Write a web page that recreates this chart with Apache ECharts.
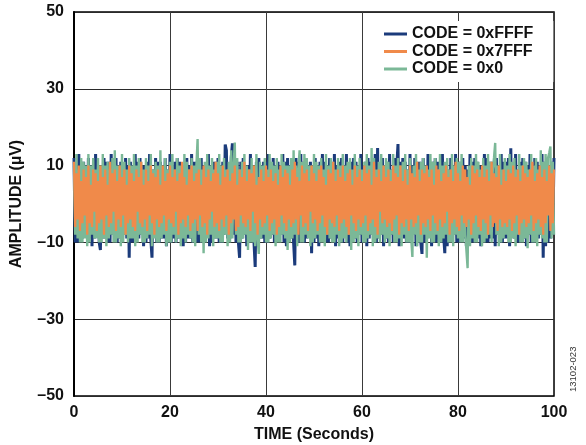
<!DOCTYPE html>
<html>
<head>
<meta charset="utf-8">
<script src="https://cdn.jsdelivr.net/npm/echarts@6/dist/echarts.min.js"></script>
<style>
  html, body { margin: 0; padding: 0; background: #fff; }
  #chart { width: 586px; height: 445px; }
</style>
</head>
<body>
<div id="chart"></div>
<script>
// Sample period (seconds) of the recorded noise traces
const sampleStep = 0.25;

// X axis tick labels (seconds) and Y axis tick labels (µV)
const xTicks = [0, 20, 40, 60, 80, 100];
const yTicks = [-50, -30, -10, 10, 30, 50];

const seriesNames = ['CODE = 0xFFFF', 'CODE = 0x7FFF', 'CODE = 0x0'];

// Amplitude readings (µV), CODE = 0xFFFF
const codeFFFF = [
  12, -10, 9, -10, 13, -9, 11, -9, 11, -8, 10, -8, 12, -9, 10, -11, 10, -9, 13, -8,
  9, -10, -12, 10, -9, 12, -9, 11, -10, 11, -10, 13, -8, 9, -8, 12, -10, 10, -9, 11,
  -9, 10, -8, 12, -9, 10, -14, 11, -10, 9, -10, 13, -9, 11, -9, 12, -8, 10, -11, 10,
  -10, 11, -9, 13, -9, -14, 9, -8, 12, -10, 11, -10, 11, -9, 10, -9, 12, -11, 9, -8,
  13, -10, 10, -9, 11, -10, 12, -9, 11, -8, 9, -11, 10, -10, 12, -9, 10, -9, 13, -10,
  11, -8, 11, -10, 9, -10, 12, -9, 10, -9, 10, -8, 13, -11, 9, -10, 11, -9, 11, -9,
  12, -10, 9, -10, 11, -8, 15.5, 14, -9, 10, -9, 12, 15.8, -8, 9, -10, 11, -10, -14, 11,
  -9, 12, -8, 10, -11, 10, -10, 13, -9, 9, -10, -16.4, 11, -8, 12, -9, 10, -9, 11, -10,
  11, -10, 13, -9, 9, -8, 12, -10, 10, -9, 11, -9, 10, -8, 13, -10, 11, -11, 12, -9,
  10, -9, 9, -10, -16, 12, -8, 11, -10, 13, -9, 11, -10, 12, -9, 10, -8, 11, -12.8, 9,
  -10, 12, -9, 10, -11, 11, -8, 13, -9, 11, -10, 9, -10, 12, -9, 10, -8, 13, -11, 10,
  -9, 11, -9, 12, -10, 9, -8, 13, -10, 10, -11, 11, -9, 12, -9, 11, -10, 9, -8, 13,
  -10, 10, -9, 11, -11, 12, -9, 11, -8, 9, -10, 13, -10, 14.6, -9, 10, -8, 12, -11, 9,
  -9, 11, -10, 13, -8, 9, -10, 12, -9, 10, 15.6, -11, 11, -8, 12, -9, 11, -10, 9, -10,
  13, -9, 10, -8, 12, -11, 11, -9, 11, -10, -13, 12, -10, 10, -9, 13, -8, 9, -11, 11,
  -9, 12, -10, 11, -9, 11, -10, 13, -8, -12.8, 10, -11, 9, -9, 12, -9, 10, -8, 13, -10,
  11, -10, 11, -9, 12, -9, 10, -11, 9, -8, 13, -10, 11, -10, 12, -9, 11, -9, 10, -11,
  9, -8, 13, -10, 12, -10, 11, -9, 11, -9, 10, -11, 12, -8, 9, -10, 13, -10, 11, -9,
  11, -9, 12, -11, 14.5, -8, 10, -9, 13, -10, 9, -10, 11, -9, 12, -9, 11, -11, 10, -8,
  13, -10, 9, -10, 12, -9, 11, -9, 10, -8, 13, -14, 11, -11, 12, -10, 10, -9, 11, -8,
  12
];

// Amplitude readings (µV), CODE = 0x7FFF
const code7FFF = [
  11, -6, 8, -4, 10, -7, 6, -5, 9, -3, 7, -8, 10, -5, 5, -6, 9, -2, 8, -7,
  6, -5, 10, -4, 7, -8, 9, -3, 5, -6, 11, -5, 8, -2, 9, -7, 6, -4, 10, -6,
  7, -3, 9, -8, 5, -5, 10, -4, 8, -6, 6, -7, 9, -2, 7, -5, 11, -6, 5, -4,
  9, -7, 6, -3, 10, -5, 8, -8, 7, -4, 9, -6, 5, -5, 10, -3, 6, -7, 8, -4,
  10, -5, 7, -6, 9, -2, 6, -8, 8, -5, 11, -4, 7, -6, 5, -3, 9, -7, 10, -5,
  6, -4, 8, -7, 9, -3, 5, -6, 10, -5, 7, -8, 9, -4, 6, -2, 8, -6, 11, -5,
  8, -7, 5, -4, 10, -6, 7, -3, 9, -8, 6, -5, 8, -4, 10, -7, 5, -6, 9, -3,
  7, -5, 11, -6, 6, -4, 9, -7, 8, -2, 10, -5, 5, -8, 7, -4, 9, -6, 6, -5,
  10, -3, 7, -7, 9, -5, 6, -4, 8, -8, 5, -6, 10, -3, 7, -5, 9, -7, 8, -4,
  5, -6, 9, -5, 11, -4, 7, -8, 6, -3, 10, -6, 8, -5, 9, -7, 6, -2, 10, -5,
  8, -4, 6, -7, 9, -5, 10, -3, 7, -6, 5, -8, 9, -4, 8, -5, 11, -6, 6, -3,
  9, -7, 7, -5, 10, -4, 6, -6, 8, -8, 9, -3, 5, -5, 10, -7, 7, -4, 9, -6,
  6, -5, 10, -3, 8, -7, 9, -5, 5, -4, 11, -6, 7, -8, 9, -2, 6, -5, 10, -4,
  7, -6, 9, -5, 6, -7, 10, -4, 8, -3, 7, -8, 10, -5, 6, -6, 9, -4, 5, -7,
  10, -4, 8, -6, 7, -5, 11, -3, 6, -8, 9, -5, 8, -6, 10, -4, 7, -7, 9, -3,
  5, -5, 10, -7, 9, -4, 6, -6, 8, -5, 10, -2, 7, -8, 9, -5, 6, -4, 11, -6,
  8, -7, 6, -3, 10, -5, 9, -6, 7, -4, 5, -8, 10, -5, 8, -3, 9, -6, 7, -7,
  10, -4, 7, -5, 9, -8, 6, -3, 11, -6, 8, -5, 7, -7, 10, -4, 5, -6, 9, -5,
  6, -6, 9, -4, 8, -7, 10, -5, 7, -3, 9, -8, 6, -5, 10, -4, 8, -6, 7, -5,
  9, -3, 11, -7, 6, -5, 8, -4, 10, -6, 7, -8, 9, -5, 6, -3, 10, -7, 8, -5,
  9
];

// Amplitude readings (µV), CODE = 0x0
const code0 = [
  10, -8, 13, -9, 9, -10, 12, -10, 11, -9, 10, -11, 13, -10, 10, -8, 12, -9, 9, -9,
  12, -10, 10, -10, 13, -9, 10, -11, 11, -9, 9, -8, 12, -10, 14, -10, 10, -9, 10, -11,
  13, -10, 11, -8, 9, -10, 12, -9, 10, -9, 13, -11, 10, -10, 12, -8, 11, -10, 9, -10,
  12, -9, 10, -8, 13, -11, 9, -9, 11, -10, 10, -10, 14, -9, 10, -8, 12, -11, 9, -10,
  11, -10, 13, -8, 9, -10, 12, -9, 10, -11, 10, -9, 13, -10, 11, -8, 9, -9, 12, -10,
  10, -11, 10, 16.9, -8, 12, -10, 9, -12.8, 11, -10, 13, -9, 10, -8, 12, -11, 9, -9, 11,
  -9, 13, -10, 10, -10, 12, -8, 9, -11, 11, -10, 14, -9, 10, 16, -8, 12, -10, 9, -10,
  11, -9, 13, -8, 10, -12, 9, -10, 12, -10, 10, -11, 13, -9, -13, 11, -9, 10, -8, 12,
  -10, 9, -10, 13, -9, 11, -8, 10, -11, 12, -10, 9, -10, 13, -8, 11, -9, 10, -12, 10,
  -10, 12, -9, 14, -8, 10, -11, 9, 14, -10, 11, -10, 13, -8, 12, -9, 10, -11, 10, -10,
  13, -9, 11, -8, 10, -10, 12, -10, 9, -11, 13, -8, 10, -9, 12, -10, 11, -10, 9, -8,
  12, -11, 10, -10, 13, -9, 10, -10, 11, -8, 12, -12, 9, -10, 13, -9, 10, -11, 12, -8,
  9, -10, 11, -10, 13, -9, 10, -8, 14.6, -11, 12, -10, 9, -9, 11, -10, 13, -8, 10, -10,
  12, -9, 11, -11, 9, -8, 13, -10, 10, -10, 12, -9, 10, -11, 11, -8, 13, -10, 9, -10,
  12, -9, -13.8, 10, -8, 13, -11, 9, -10, 11, -10, 12, -8, 10, -14, 9, -9, 13, -10, 11,
  -10, 12, -8, 9, -11, 13, -10, 10, -9, 11, -8, 12, -10, 9, -10, 13, -11, 10, -8, 12,
  -9, 11, -10, 13, -10, 9, -8, -12, -16.7, 10, -11, 12, -9, 10, -10, 13, -10, 11, -8, 9,
  -11, 12, -10, 10, -9, 13, -8, 11, -10, 9, 12, 15.9, -8, 10, -11, 13, -10, 9, -9, 12,
  -8, 10, -10, 13, -10, 11, -9, 12, -11, 9, -8, 13, -10, 10, -10, 12, -9, 11, -11.5, 9,
  -8, 13, -10, 10, -10, 12, -11, 9, -8, 14, -9, 11, -10, 13, -10, 12, 13.3, 15, -9, 11,
  -8
];

// time stamp of each sample
const times = code7FFF.map((_, i) => i * sampleStep);
const pair = arr => arr.map((v, i) => [times[i], v]);

const FONT = '"Liberation Sans", Arial, Helvetica, sans-serif';
const fmtMinus = v => (v < 0 ? '\u2013' + Math.abs(v) : String(v));

const chart = echarts.init(document.getElementById('chart'), null, { renderer: 'canvas' });
chart.setOption({
  animation: false,
  backgroundColor: '#ffffff',
  grid: {
    left: 74, right: 32, top: 12, bottom: 49,
    outerBoundsMode: 'none', containLabel: false,
    show: true, borderColor: '#000', borderWidth: 1.5, backgroundColor: 'transparent'
  },
  legend: {
    orient: 'vertical',
    left: 377, top: 21,
    padding: [5, 20, 5, 7],
    backgroundColor: '#ffffff',
    icon: 'rect',
    itemWidth: 23, itemHeight: 3,
    itemGap: 1.5,
    data: seriesNames,
    textStyle: { fontFamily: FONT, fontWeight: 'bold', fontSize: 16, color: '#111', lineHeight: 16 }
  },
  xAxis: {
    type: 'value',
    min: xTicks[0], max: xTicks[xTicks.length - 1], interval: 20,
    name: 'TIME (Seconds)', nameLocation: 'middle', nameGap: 31,
    nameTextStyle: { fontFamily: FONT, fontWeight: 'bold', fontSize: 16, color: '#111' },
    axisLine: { lineStyle: { color: '#000', width: 2 } },
    axisTick: { show: false },
    axisLabel: { margin: 9, fontFamily: FONT, fontWeight: 'bold', fontSize: 16, color: '#111',
      formatter: v => fmtMinus(v) },
    splitLine: { show: true, lineStyle: { color: '#3a3a3a', width: 1 } }
  },
  yAxis: {
    type: 'value',
    min: yTicks[0], max: yTicks[yTicks.length - 1], interval: 20,
    name: 'AMPLITUDE (\u00B5V)', nameLocation: 'middle', nameGap: 49, nameRotate: 90,
    nameTextStyle: { fontFamily: FONT, fontWeight: 'bold', fontSize: 16, color: '#111' },
    axisLine: { show: true, onZero: false, lineStyle: { color: '#000', width: 2 } },
    axisTick: { show: false },
    axisLabel: { margin: 10, fontFamily: FONT, fontWeight: 'bold', fontSize: 16, color: '#111',
      formatter: v => fmtMinus(v) },
    splitLine: { show: true, lineStyle: { color: '#2a2a2a', width: 1 } }
  },
  graphic: [{
    type: 'text', x: 573, y: 392, rotation: Math.PI / 2,
    style: { text: '13102-023', font: '9.5px ' + FONT, fill: '#333', align: 'left', verticalAlign: 'middle' }
  }],
  series: [
    { name: seriesNames[0], type: 'line', data: pair(codeFFFF), showSymbol: false,
      color: '#1b3b7b', lineStyle: { width: 3, color: '#1b3b7b' }, z: 2 },
    { name: seriesNames[2], type: 'line', data: pair(code0), showSymbol: false,
      color: '#7bb897', lineStyle: { width: 2.4, color: '#7bb897' }, z: 3 },
    { name: seriesNames[1], type: 'line', data: pair(code7FFF), showSymbol: false,
      color: '#f08a4a', lineStyle: { width: 2.2, color: '#f08a4a' }, z: 4 }
  ]
});
</script>
</body>
</html>
